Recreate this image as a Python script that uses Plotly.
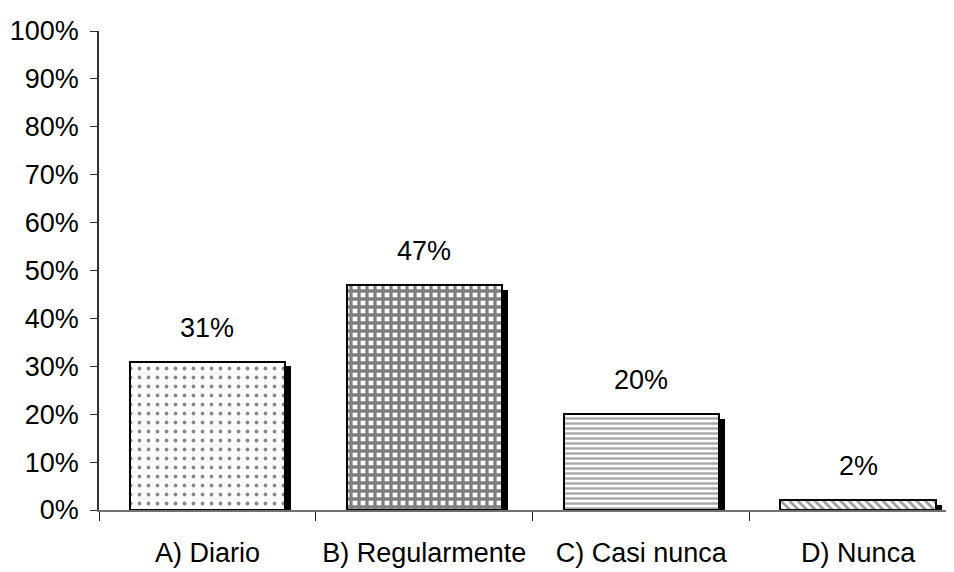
import plotly.graph_objects as go

categories = ["A) Diario", "B) Regularmente", "C) Casi nunca", "D) Nunca"]
values = [31, 47, 20, 2]
labels = ["31%", "47%", "20%", "2%"]
y_ticks = [0, 10, 20, 30, 40, 50, 60, 70, 80, 90, 100]
y_ticklabels = [f"{v}%" for v in y_ticks]

patterns = [".", "+", "-", "\\"]
pat_fg = ["#111111", "#000000", "#555555", "#333333"]
pat_size = [9, 8, 5, 6]
pat_sol = [0.14, 0.65, 0.5, 0.45]

FONT = "Liberation Sans, Arial, sans-serif"
FS = 27
BAR_W = 0.716
SHADOW_DX = 6 / 215.0
SHADOW_DY = 1.0

fig = go.Figure()

# shadows
fig.add_trace(go.Bar(
    x=categories, y=[v - SHADOW_DY for v in values],
    width=BAR_W, offset=-BAR_W / 2 + SHADOW_DX,
    marker=dict(color="black", line=dict(width=0)),
    showlegend=False, hoverinfo="skip",
))

# main bars
for i, (c, v) in enumerate(zip(categories, values)):
    fig.add_trace(go.Bar(
        x=[c], y=[v], width=BAR_W, offset=-BAR_W / 2,
        marker=dict(
            color="white",
            line=dict(color="black", width=2),
            pattern=dict(shape=patterns[i], fgcolor=pat_fg[i], bgcolor="white",
                         size=pat_size[i], solidity=pat_sol[i], fillmode="overlay"),
        ),
        showlegend=False,
    ))

for c, v, t in zip(categories, values, labels):
    fig.add_annotation(x=c, y=v, text=t, showarrow=False, yanchor="bottom",
                       yshift=17, font=dict(family=FONT, size=FS, color="black"))

fig.update_layout(
    width=946, height=564,
    margin=dict(l=91, r=0, t=23, b=62, autoexpand=False),
    paper_bgcolor="white", plot_bgcolor="white",
    barmode="overlay", bargap=0,
    font=dict(family=FONT, size=FS, color="black"),
    xaxis=dict(
        type="category", range=[-0.5, 3.442], automargin=False,
        showline=True, linecolor="#707070", linewidth=1.5,
        ticks="outside", ticklen=9, tickcolor="#222222", tickwidth=1,
        tickson="boundaries", showgrid=False, zeroline=False,
        ticklabelstandoff=18,
        tickfont=dict(family=FONT, size=FS, color="black"),
    ),
    yaxis=dict(
        range=[0, 100], tickvals=y_ticks, ticktext=y_ticklabels, automargin=False,
        showline=True, linecolor="#333333", linewidth=1.5,
        ticks="outside", ticklen=7, tickcolor="#333333",
        showgrid=False, zeroline=False,
        ticklabelstandoff=6,
        tickfont=dict(family=FONT, size=FS, color="black"),
    ),
)

fig.write_html("out.html")
